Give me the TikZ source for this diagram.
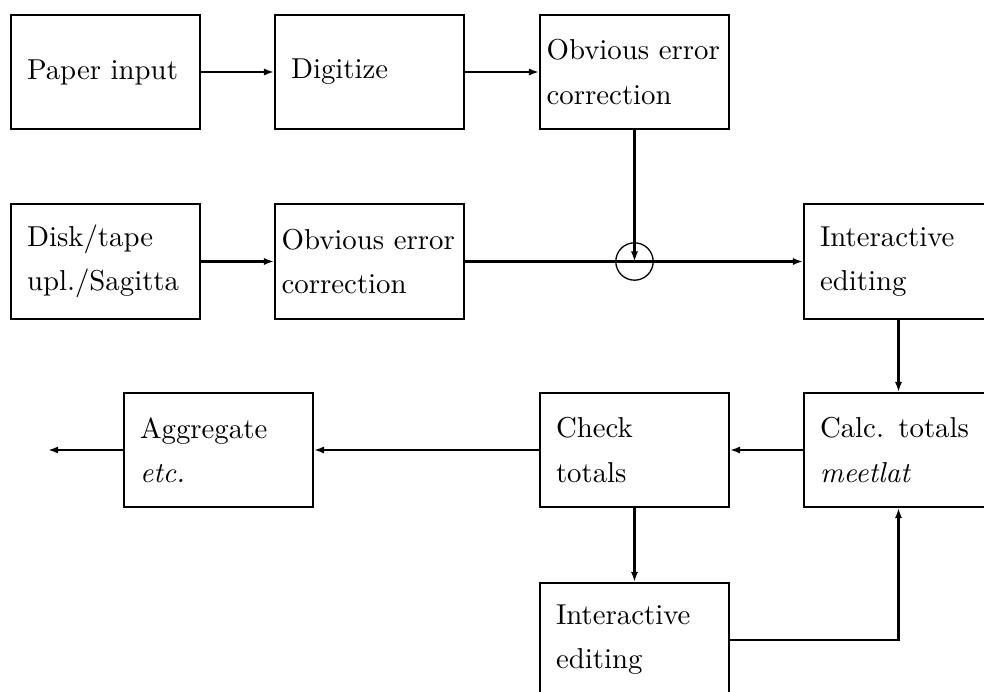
\documentclass[tikz,border=0pt]{standalone}
\usetikzlibrary{arrows.meta}
\tikzset{
  box/.style={draw, line width=0.7pt, rectangle, minimum width=65.6pt, minimum height=39.6pt,
    text width=54.5pt, inner xsep=5.55pt, align=left,
    font=\fontsize{10pt}{15.3pt}\selectfont},
  widebox/.style={box, text width=61pt, inner xsep=2.3pt},
  conn/.style={line width=0.7pt, -{Latex[length=3.5pt,width=2.5pt]}},
  plain/.style={line width=0.7pt},
  junction/.style={draw, circle, line width=0.45pt, minimum size=12.98pt, inner sep=0pt}
}
\begin{document}
\begin{tikzpicture}[x=0.3472pt, y=-0.3472pt]
\useasboundingbox (0,0) rectangle (984,691);
\clip (0,0) rectangle (984,691);
\node[box] (paper) at (105.5,72) {Paper input};
\node[box] (digit) at (369.5,72) {Digitize};
\node[widebox] (obv1) at (634.5,72) {Obvious error\\correction};
\node[box] (disk) at (105.5,261.5) {Disk/tape\\upl./Sagitta};
\node[widebox] (obv2) at (369.5,261.5) {Obvious error\\correction};
\node[box] (inter1) at (898.5,261.5) {Interactive\\editing};
\node[box] (calc) at (898.5,450) {Calc. totals\\\emph{meetlat}};
\node[box] (check) at (634.5,450) {Check\\totals};
\node[box] (aggr) at (218.5,450) {Aggregate\\\emph{etc.}};
\node[box] (inter2) at (634.5,640) {Interactive\\editing};
\node[junction] (jn) at (634.5,261.5) {};
\coordinate (out) at (48,450);

\draw[conn] (paper) -- (digit);
\draw[conn] (digit) -- (obv1);
\draw[conn] (disk) -- (obv2);
\draw[conn] (obv1.south) -- (jn.center);
\draw[conn] (obv2.east) -- (inter1.west);
\draw[conn] (inter1) -- (calc);
\draw[conn] (calc) -- (check);
\draw[conn] (check) -- (aggr);
\draw[conn] (aggr) -- (out);
\draw[conn] (check) -- (inter2);
\draw[conn] (inter2.east) -| (calc.south);
\end{tikzpicture}
\end{document}
